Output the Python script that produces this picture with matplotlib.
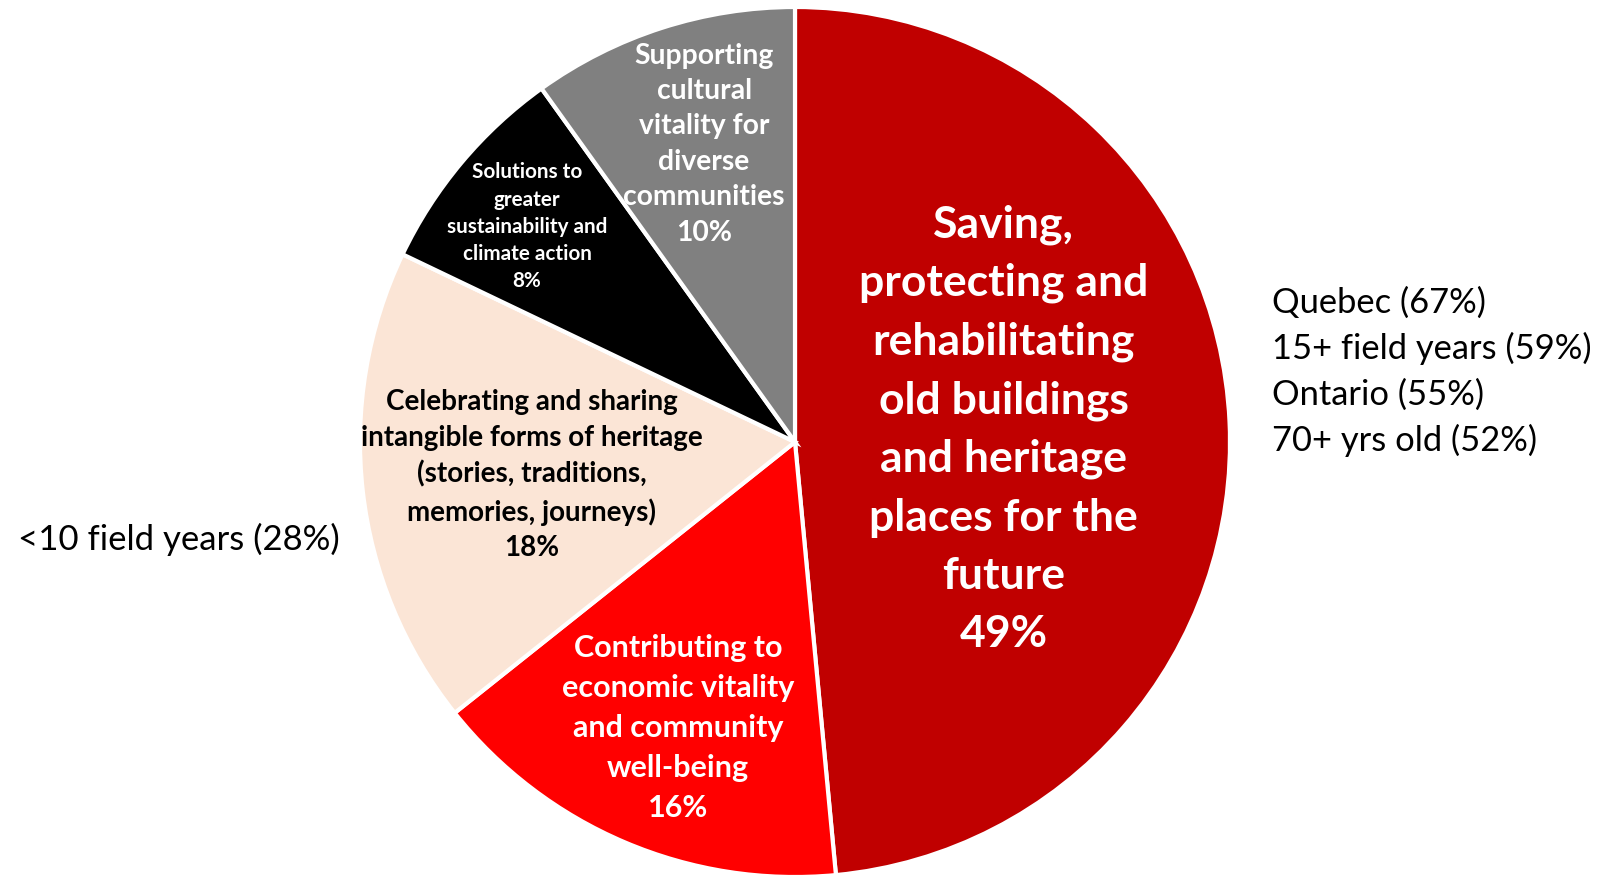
import matplotlib.pyplot as plt

plt.rcParams['font.family'] = ['Lato', 'DejaVu Sans']

# slice data, clockwise from 12 o'clock
categories = [
    "Saving,\nprotecting and\nrehabilitating\nold buildings\nand heritage\nplaces for the\nfuture",
    "Contributing to\neconomic vitality\nand community\nwell-being",
    "Celebrating and sharing\nintangible forms of heritage\n(stories, traditions,\nmemories, journeys)",
    "Solutions to\ngreater\nsustainability and\nclimate action",
    "Supporting\ncultural\nvitality for\ndiverse\ncommunities",
]
shares = [48.5, 15.8, 17.8, 8.0, 9.9]
pct_labels = ["49%", "16%", "18%", "8%", "10%"]

right_notes = ["Quebec (67%)", "15+ field years (59%)", "Ontario (55%)", "70+ yrs old (52%)"]
left_notes = ["<10 field years (28%)"]

colors = ["#C00000", "#FF0000", "#FBE5D6", "#000000", "#808080"]
text_colors = ["white", "white", "black", "white", "white"]
label_pos = [(0.480, 0.032), (-0.269, -0.655), (-0.605, -0.074), (-0.616, 0.497), (-0.209, 0.687)]
label_size = [32, 22, 20, 14.9, 20.3]
label_ls = [1.55, 1.53, 1.45, 1.45, 1.45]

fig = plt.figure(figsize=(16.13, 8.78), dpi=100)
W, H = 1613, 878
cx, cy, r = 795, 443, 435
ax = fig.add_axes([(cx - r) / W, (H - cy - r) / H, 2 * r / W, 2 * r / H])

ax.pie(shares, colors=colors, startangle=90, counterclock=False, radius=1,
       wedgeprops=dict(edgecolor="white", linewidth=3))
ax.set_xlim(-1, 1)
ax.set_ylim(-1, 1)
ax.set_aspect("equal")
ax.axis("off")

for cat, pct, (x, y), tc, fs, ls in zip(categories, pct_labels, label_pos, text_colors, label_size, label_ls):
    ax.text(x, y, cat + "\n" + pct, ha="center", va="center", color=tc,
            fontsize=fs, fontweight="bold", linespacing=ls)

fig.text(1272 / W, 1 - 372 / H, "\n".join(right_notes), ha="left", va="center",
         fontsize=24.8, linespacing=1.5, color="black")
fig.text(18 / W, 1 - 539 / H, "\n".join(left_notes), ha="left", va="center",
         fontsize=25, color="black")

fig.savefig("out.png", dpi=100)
